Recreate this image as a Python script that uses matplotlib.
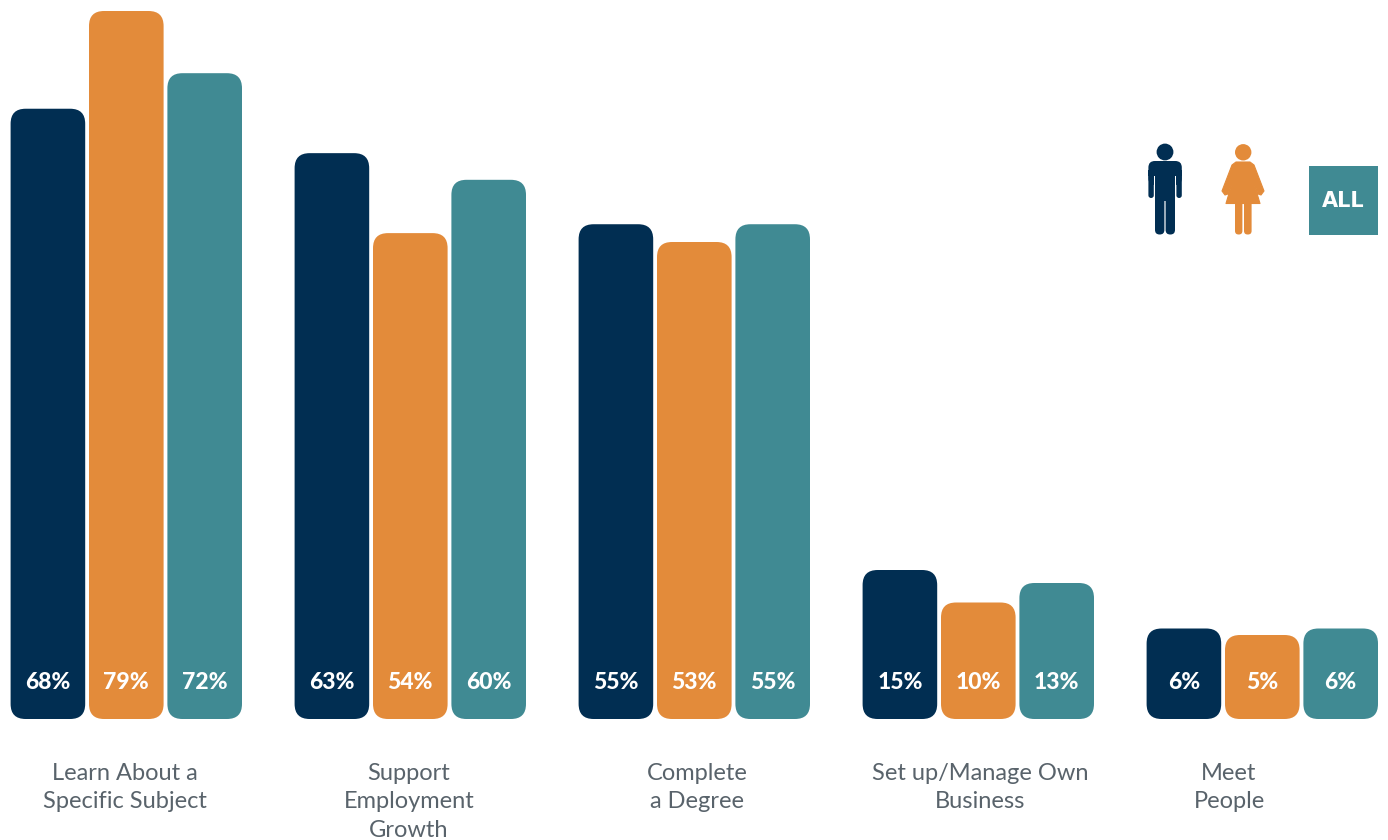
import numpy as np
from matplotlib import pyplot as plt
from matplotlib.patches import Circle, FancyBboxPatch, Polygon, Rectangle
from matplotlib.transforms import Affine2D, IdentityTransform

plt.rcParams['font.family'] = ['Lato', 'DejaVu Sans']

categories = ["Learn About a\nSpecific Subject", "Support\nEmployment\nGrowth",
              "Complete\na Degree", "Set up/Manage Own\nBusiness", "Meet\nPeople"]
men = [68, 63, 55, 15, 6]
women = [79, 54, 53, 10, 5]
everyone = [72, 60, 55, 13, 6]

NAVY = "#012E52"
ORANGE = "#E38B3A"
TEAL = "#408A93"
GREY = "#59636B"

W, H = 1388, 840
BASE = 719  # pixel row of the bar bottoms
STEP = 284.0  # pixels between groups

# small shares are stretched so their labels still fit inside the bars
knots_val = np.array([0, 5, 15, 53, 79, 80.24, 100])
knots_px = np.array([0, 84, 149, 477, 708, 719, 895])


def forward(v):
    return np.interp(v, knots_val, knots_px)


def inverse(p):
    return np.interp(p, knots_px, knots_val)


fig = plt.figure(figsize=(W / 100, H / 100), dpi=100)
ax = fig.add_axes([0, (H - BASE) / H, 1, BASE / H])
ax.set_yscale('function', functions=(forward, inverse))
ax.set_ylim(0, 80.24)
ax.set_xlim(-126.3 / STEP, (W - 126.3) / STEP)
ax.axis('off')

x = np.arange(len(categories))
offset = 78.4 / STEP
width = 74.6 / STEP

for shift, values, color in [(-offset, men, NAVY), (0, women, ORANGE), (offset, everyone, TEAL)]:
    bars = ax.bar(x + shift, values, width, color=color)
    fig.canvas.draw()
    for bar, val in zip(bars, values):
        # swap the square bar for a rounded one of the same size
        box = bar.get_window_extent()
        bar.set_visible(False)
        r = 15
        rounded = FancyBboxPatch((box.x0 + r, box.y0 + r), box.width - 2 * r, box.height - 2 * r,
                                 boxstyle=f"round,pad={r},rounding_size={r}",
                                 fc=color, ec='none', transform=IdentityTransform(),
                                 clip_on=False, zorder=-1)
        fig.add_artist(rounded)
        ax.annotate(f"{val}%", xy=(bar.get_x() + bar.get_width() / 2, 0),
                    xytext=(0, 26), textcoords='offset points', ha='center', va='center',
                    color='white', fontsize=16.5, fontweight='black', zorder=5)

# category captions sit under the groups, not always centred on them
label_x = [125, 409, 697, 980, 1229]
for px, label in zip(label_x, categories):
    fig.text(px / W, 1 - 762.5 / H, label, ha='center', va='top', color=GREY,
             fontsize=17, fontweight='normal', linespacing=1.47)

# key drawn in pixel coordinates, y running downwards
pix = Affine2D().scale(1, -1).translate(0, H)


def add(patch):
    patch.set_transform(pix)
    patch.set_clip_on(False)
    fig.add_artist(patch)


def rbox(x0, y0, x1, y1, r, color):
    add(FancyBboxPatch((x0 + r, y0 + r), x1 - x0 - 2 * r, y1 - y0 - 2 * r,
                       boxstyle=f"round,pad={r},rounding_size={r}", fc=color, ec='none'))


# man
add(Circle((1165, 152), 8.4, fc=NAVY, ec='none'))
rbox(1148.4, 161, 1181.8, 185, 6.5, NAVY)
add(Rectangle((1148.4, 170), 33.4, 6, fc=NAVY, ec='none'))
rbox(1148.4, 170, 1153.8, 198, 2.7, NAVY)
rbox(1176.4, 170, 1181.8, 198, 2.7, NAVY)
add(Rectangle((1153.8, 176), 1.2, 12, fc='white', ec='none'))
add(Rectangle((1175.2, 176), 1.2, 12, fc='white', ec='none'))
rbox(1155, 170, 1164.4, 234.5, 4.6, NAVY)
rbox(1165.6, 170, 1175, 234.5, 4.6, NAVY)
add(Rectangle((1155, 165), 20, 36, fc=NAVY, ec='none'))

# woman
add(Circle((1243.2, 152.3), 8.2, fc=ORANGE, ec='none'))
add(Polygon([(1236, 162), (1250, 162), (1254, 165), (1264, 191), (1261, 195), (1258, 194),
             (1252, 176.5), (1260, 203.5), (1226, 203.5), (1234, 176.5),
             (1228, 194), (1225, 195), (1222, 191), (1232, 165)],
            closed=True, fc=ORANGE, ec=ORANGE, lw=0.8, joinstyle='round'))
rbox(1235, 198, 1242.4, 234.5, 3.6, ORANGE)
rbox(1244, 198, 1251.6, 234.5, 3.6, ORANGE)

# all respondents
add(Rectangle((1309, 166), 69, 69, fc=TEAL, ec='none'))
fig.text(1343.5 / W, 1 - 201 / H, "ALL", ha='center', va='center', color='white',
         fontsize=15, fontweight='bold', family=['DejaVu Sans'])

fig.savefig("out.png", dpi=100)
